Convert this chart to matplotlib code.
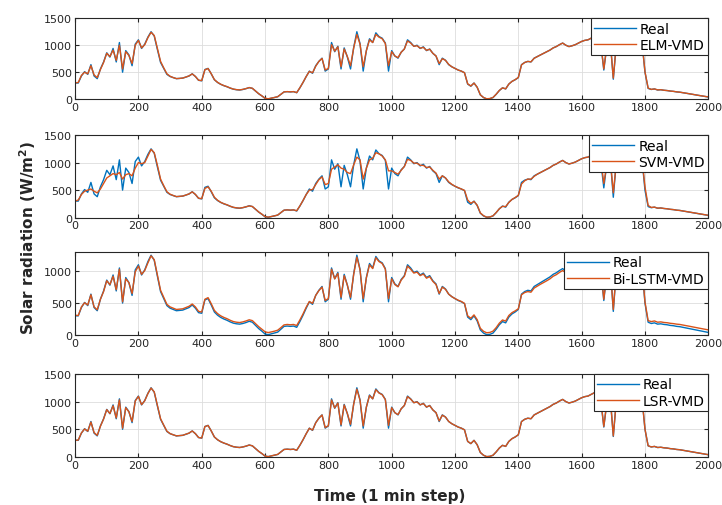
import numpy as np
import matplotlib
matplotlib.use("Agg")
import matplotlib.pyplot as plt

# time axis, 1-min steps sampled every 10 min
time = list(range(0, 2001, 10))

real = [
    300, 300, 430, 510, 460, 640, 430, 380, 560, 690,
    860, 780, 940, 690, 1050, 500, 900, 820, 620, 1020,
    1100, 940, 1020, 1150, 1250, 1170, 920, 680, 570, 460,
    420, 400, 380, 385, 390, 410, 430, 470, 420, 350,
    340, 550, 570, 470, 360, 310, 275, 250, 230, 205,
    185, 175, 170, 180, 195, 215, 200, 150, 100, 60,
    15, 5, 18, 30, 45, 90, 135, 140, 135, 140,
    120, 210, 310, 420, 520, 480, 620, 700, 760, 520,
    560, 1050, 880, 980, 560, 950, 780, 560, 960, 1250,
    1030, 520, 900, 1120, 1050, 1230, 1160, 1130, 1040, 520,
    900, 800, 760, 870, 930, 1100, 1050, 980, 1000, 940,
    970, 900, 930, 850, 800, 640, 760, 720, 640, 600,
    570, 540, 520, 490, 280, 240, 300, 220, 80, 30,
    5, 10, 30, 90, 160, 210, 190, 280, 330, 360,
    400, 640, 680, 700, 690, 760, 790, 820, 850, 880,
    910, 950, 975, 1010, 1040, 1000, 975, 990, 1010, 1040,
    1070, 1090, 1100, 1130, 1160, 1200, 1050, 540, 1000, 1100,
    370, 1050, 1120, 900, 1150, 1160, 1150, 1140, 1130, 1100,
    500, 200, 180, 190, 170, 175, 165, 160, 150, 145,
    135, 130, 120, 110, 100, 90, 80, 70, 60, 50,
    40,
]

elm_vmd = [
    300, 310, 440, 500, 470, 620, 450, 400, 550, 680,
    850, 790, 910, 720, 1000, 560, 880, 810, 660, 1000,
    1090, 950, 1010, 1140, 1240, 1180, 940, 700, 580, 470,
    425, 400, 382, 385, 392, 410, 432, 468, 422, 352,
    345, 545, 568, 472, 362, 312, 277, 252, 232, 207,
    187, 177, 172, 182, 197, 215, 202, 152, 102, 62,
    18, 8, 20, 32, 47, 92, 135, 140, 136, 140,
    122, 212, 312, 420, 515, 490, 610, 700, 755, 540,
    570, 1010, 890, 970, 600, 930, 790, 620, 950, 1200,
    1020, 600, 900, 1100, 1050, 1200, 1150, 1120, 1030, 620,
    880, 800, 770, 870, 930, 1080, 1040, 980, 990, 945,
    960, 905, 925, 850, 800, 660, 750, 720, 645, 600,
    570, 540, 520, 490, 285, 245, 298, 222, 82, 32,
    8, 12, 32, 92, 162, 210, 192, 280, 330, 362,
    402, 635, 680, 700, 692, 758, 790, 820, 850, 880,
    910, 950, 975, 1010, 1040, 1000, 975, 990, 1010, 1040,
    1070, 1090, 1100, 1130, 1160, 1200, 1060, 560, 1000, 1100,
    390, 1050, 1120, 920, 1150, 1160, 1150, 1140, 1130, 1100,
    510, 205, 182, 190, 172, 175, 166, 160, 151, 145,
    136, 130, 121, 110, 101, 90, 81, 70, 61, 50,
    42,
]

svm_vmd = [
    300, 320, 420, 480, 500, 520, 480, 450, 520, 620,
    720, 760, 800, 780, 820, 700, 780, 800, 760, 900,
    1000, 980, 1000, 1120, 1240, 1180, 950, 700, 580, 470,
    425, 402, 382, 386, 392, 410, 431, 468, 422, 352,
    345, 530, 560, 480, 370, 315, 278, 252, 232, 207,
    187, 177, 172, 182, 197, 212, 202, 152, 102, 62,
    18, 8, 20, 32, 47, 92, 135, 140, 136, 140,
    125, 212, 312, 420, 500, 510, 600, 690, 740, 600,
    620, 880, 920, 960, 900, 880, 820, 800, 960, 1100,
    1050, 700, 900, 1050, 1080, 1180, 1160, 1120, 1050, 850,
    850, 820, 790, 860, 930, 1060, 1040, 990, 990, 950,
    950, 910, 920, 860, 810, 700, 760, 720, 650, 605,
    570, 545, 520, 495, 320, 260, 295, 225, 85, 35,
    8, 12, 32, 92, 160, 205, 200, 275, 330, 365,
    405, 610, 670, 700, 700, 750, 790, 820, 850, 880,
    910, 950, 975, 1010, 1040, 1000, 975, 990, 1010, 1040,
    1070, 1090, 1100, 1130, 1160, 1190, 1080, 620, 980, 1090,
    450, 1020, 1110, 960, 1140, 1150, 1150, 1140, 1130, 1100,
    560, 220, 185, 190, 172, 175, 166, 160, 151, 145,
    135, 130, 120, 110, 100, 90, 80, 70, 60, 50,
    42,
]

bilstm_vmd = [
    310, 305, 440, 505, 470, 630, 440, 395, 560, 680,
    850, 790, 920, 710, 1030, 520, 880, 820, 650, 990,
    1080, 950, 1010, 1130, 1240, 1180, 940, 700, 590, 480,
    440, 420, 400, 405, 410, 430, 450, 485, 440, 370,
    360, 560, 585, 490, 385, 335, 300, 275, 255, 230,
    210, 200, 195, 205, 220, 238, 225, 178, 130, 90,
    50, 38, 48, 60, 75, 115, 158, 165, 160, 165,
    148, 235, 330, 435, 525, 495, 620, 695, 750, 540,
    570, 1030, 880, 965, 590, 930, 780, 590, 950, 1220,
    1020, 570, 895, 1100, 1040, 1210, 1150, 1120, 1030, 570,
    880, 790, 755, 860, 920, 1080, 1030, 970, 985, 930,
    955, 890, 915, 840, 790, 650, 750, 715, 640, 600,
    570, 545, 525, 495, 300, 262, 315, 240, 105, 58,
    35, 40, 60, 115, 185, 235, 218, 305, 350, 378,
    410, 630, 665, 680, 670, 735, 765, 795, 822, 850,
    880, 920, 945, 980, 1010, 975, 950, 965, 985, 1015,
    1045, 1065, 1080, 1110, 1140, 1180, 1050, 560, 990, 1085,
    400, 1040, 1100, 910, 1130, 1145, 1140, 1130, 1125, 1100,
    520, 225, 210, 220, 200, 205, 196, 192, 183, 178,
    170, 165, 156, 146, 137, 127, 118, 108, 99, 89,
    80,
]

lsr_vmd = [
    300, 305, 435, 505, 465, 630, 440, 390, 555, 685,
    855, 785, 925, 705, 1030, 520, 890, 815, 640, 1010,
    1095, 945, 1015, 1145, 1245, 1175, 930, 690, 575, 465,
    422, 400, 381, 385, 391, 410, 431, 469, 421, 351,
    342, 548, 569, 471, 361, 311, 276, 251, 231, 206,
    186, 176, 171, 181, 196, 215, 201, 151, 101, 61,
    16, 6, 19, 31, 46, 91, 135, 140, 135, 140,
    121, 211, 311, 420, 518, 485, 615, 700, 758, 530,
    565, 1030, 885, 975, 580, 940, 785, 590, 955, 1225,
    1025, 560, 900, 1110, 1050, 1215, 1155, 1125, 1035, 570,
    890, 800, 765, 870, 930, 1090, 1045, 980, 995, 942,
    965, 902, 928, 850, 800, 650, 755, 720, 642, 600,
    570, 540, 520, 490, 282, 242, 299, 221, 81, 31,
    6, 11, 31, 91, 161, 210, 191, 280, 330, 361,
    401, 638, 680, 700, 691, 759, 790, 820, 850, 880,
    910, 950, 975, 1010, 1040, 1000, 975, 990, 1010, 1040,
    1070, 1090, 1100, 1130, 1160, 1200, 1055, 550, 1000, 1100,
    380, 1050, 1120, 910, 1150, 1160, 1150, 1140, 1130, 1100,
    505, 202, 181, 190, 171, 175, 165, 160, 150, 145,
    135, 130, 120, 110, 100, 90, 80, 70, 60, 50,
    41,
]

models = ["ELM-VMD", "SVM-VMD", "Bi-LSTM-VMD", "LSR-VMD"]
preds = [elm_vmd, svm_vmd, bilstm_vmd, lsr_vmd]
ytops = [1500, 1500, 1300, 1500]

BLUE = "#0072BD"
ORANGE = "#D95319"

fig = plt.figure(figsize=(7.22, 5.06), dpi=100)

# axes boxes in figure fraction [left, bottom, width, height]
boxes = [
    [0.104, 0.802, 0.877, 0.160],
    [0.104, 0.568, 0.877, 0.163],
    [0.104, 0.336, 0.877, 0.164],
    [0.104, 0.095, 0.877, 0.164],
]

for box, name, pred, ytop in zip(boxes, models, preds, ytops):
    ax = fig.add_axes(box)
    ax.plot(time, real, color=BLUE, lw=1.0, label="Real")
    ax.plot(time, pred, color=ORANGE, lw=1.0, label=name)
    ax.set_xlim(0, 2000)
    ax.set_ylim(0, ytop)
    ax.set_xticks(np.arange(0, 2001, 200))
    ax.set_yticks([0, 500, 1000, 1500] if ytop >= 1500 else [0, 500, 1000])
    ax.grid(True, color="#dddddd", lw=0.6)
    ax.tick_params(direction="in", top=True, right=True, length=3,
                   labelsize=8, colors="#262626", pad=2)
    for s in ax.spines.values():
        s.set_color("#262626")
        s.set_linewidth(0.8)
    leg = ax.legend(loc="upper right", fontsize=10, handlelength=3.0,
                    borderaxespad=0.0, fancybox=False, framealpha=1,
                    edgecolor="#262626", borderpad=0.25, labelspacing=0.15,
                    handletextpad=0.3)
    leg.get_frame().set_linewidth(0.8)

fig.text(0.038, 0.53, "Solar radiation (W/m$^{\\mathbf{2}}$)", rotation=90,
         ha="center", va="center", fontsize=11, fontweight="bold",
         color="#262626")
fig.text(0.54, 0.018, "Time (1 min step)", ha="center", va="center",
         fontsize=11, fontweight="bold", color="#262626")

fig.savefig("out.png", dpi=100)
